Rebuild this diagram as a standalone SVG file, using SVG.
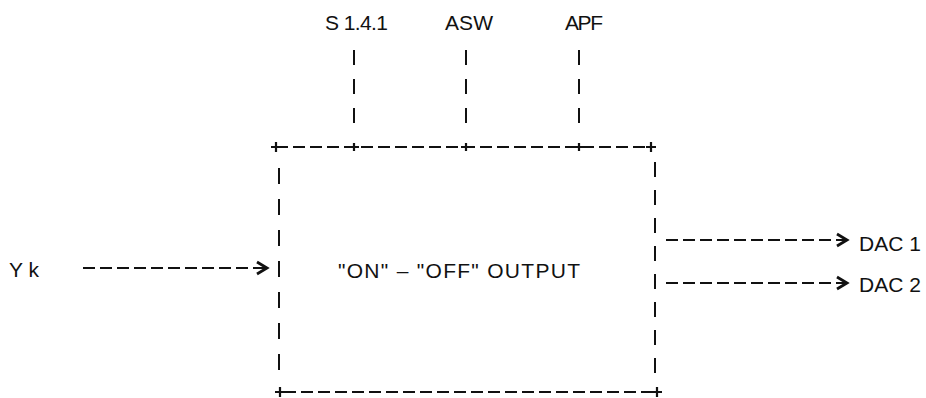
<svg xmlns="http://www.w3.org/2000/svg" width="926" height="398" viewBox="0 0 926 398">
<style>
text{font-family:"Liberation Sans",Arial,sans-serif;fill:#111;font-size:21px}
.h{stroke:#111;stroke-width:2.2;fill:none;stroke-dasharray:12 5}
.v{stroke:#111;stroke-width:2;fill:none;stroke-dasharray:15 14}
.c{stroke:#111;stroke-width:2.2;fill:none}
.ah{stroke:#111;stroke-width:2.8;fill:none;stroke-linejoin:miter}
</style>
<rect width="926" height="398" fill="#fff"/>
<g id="label-s141"><text x="325" y="30" textLength="63">S 1.4.1</text></g>
<g id="label-asw"><text x="445" y="30" textLength="48">ASW</text></g>
<g id="label-apf"><text x="565" y="30" textLength="38">APF</text></g>
<g id="label-yk"><text x="9" y="277" textLength="30">Yk</text></g>
<g id="label-dac1"><text x="859" y="251" textLength="62">DAC 1</text></g>
<g id="label-dac2"><text x="859" y="292" textLength="62">DAC 2</text></g>
<g id="box">
<path class="h" d="M276 147H650"/>
<path class="h" d="M284 392H654"/>
<path class="v" d="M279 168V372" style="stroke-dasharray:16 15"/>
<path class="v" d="M655 162V374" style="stroke-dasharray:15 13"/>
<path class="c" d="M271 147h10M276 142v10M646 147h10M651 142v10M275 392h10M280 387v10M652 392h10M657 387v10M349 147h10M354 143v8M461 147h10M466 143v8M574 147h10M579 143v8"/>
<text x="338" y="278" font-size="22" textLength="242">"ON" – "OFF" OUTPUT</text>
</g>
<g id="connectors">
<path class="v" d="M354 50V124"/>
<path class="v" d="M466 50V124"/>
<path class="v" d="M579 50V124"/>
<path class="h" d="M83 268H266"/>
<path class="ah" d="M257 262l10 6-10 6"/>
<path class="h" d="M666 240H846"/>
<path class="ah" d="M837 234l10 6-10 6"/>
<path class="h" d="M666 283H846"/>
<path class="ah" d="M837 277l10 6-10 6"/>
</g>
</svg>
